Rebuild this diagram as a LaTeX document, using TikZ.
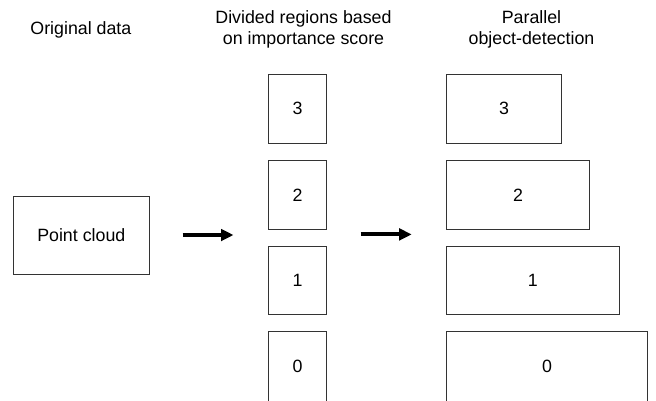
\documentclass[tikz,border=0pt]{standalone}
\usepackage{fontspec}
\setmainfont{Liberation Sans}
\usetikzlibrary{arrows.meta}
\begin{document}
\begin{tikzpicture}[x=1pt,y=-1pt,
  every node/.style={font=\fontsize{17.8}{20.5}\selectfont, text=black},
  box/.style={draw=black!80, line width=1pt, inner sep=0pt},
  head/.style={anchor=base, align=center, inner sep=0pt},
  bigarrow/.style={draw=black, line width=4pt, -{Triangle[length=12.5pt,width=11.5pt]}}]
\useasboundingbox (0,0) rectangle (656,400);
% headings
\node[head] (h1) at (80.9,34.3) {Original data};
\node[head] (h2) at (303.5,44.4) {Divided regions based\\on importance score};
\node[head] (h3) at (531.5,44.4) {Parallel\\object-detection};
% original data
\node[box, minimum width=136pt, minimum height=78.3pt] (pc) at (81.3,235.2) {Point cloud};
% divided regions
\node[box, minimum width=58.4pt, minimum height=69pt] (m3) at (297.5,108.8) {3};
\node[box, minimum width=58.4pt, minimum height=68.6pt] (m2) at (297.5,195) {2};
\node[box, minimum width=58.4pt, minimum height=68.7pt] (m1) at (297.5,280.4) {1};
\node[box, minimum width=58.4pt, minimum height=71pt] (m0) at (297.5,366.5) {0};
% parallel detection
\node[box, minimum width=115.4pt, minimum height=69pt] (r3) at (504,108.8) {3};
\node[box, minimum width=143.4pt, minimum height=68.6pt] (r2) at (518,195) {2};
\node[box, minimum width=173pt, minimum height=68.7pt] (r1) at (532.8,280.4) {1};
\node[box, minimum width=201.4pt, minimum height=71pt] (r0) at (547,366.5) {0};
% arrows
\coordinate (a1s) at (182.7,235);
\coordinate (a1e) at (233.5,235);
\coordinate (a2s) at (360.7,234.4);
\coordinate (a2e) at (411.7,234.4);
\draw[bigarrow] (a1s) -- (a1e);
\draw[bigarrow] (a2s) -- (a2e);
\end{tikzpicture}
\end{document}
